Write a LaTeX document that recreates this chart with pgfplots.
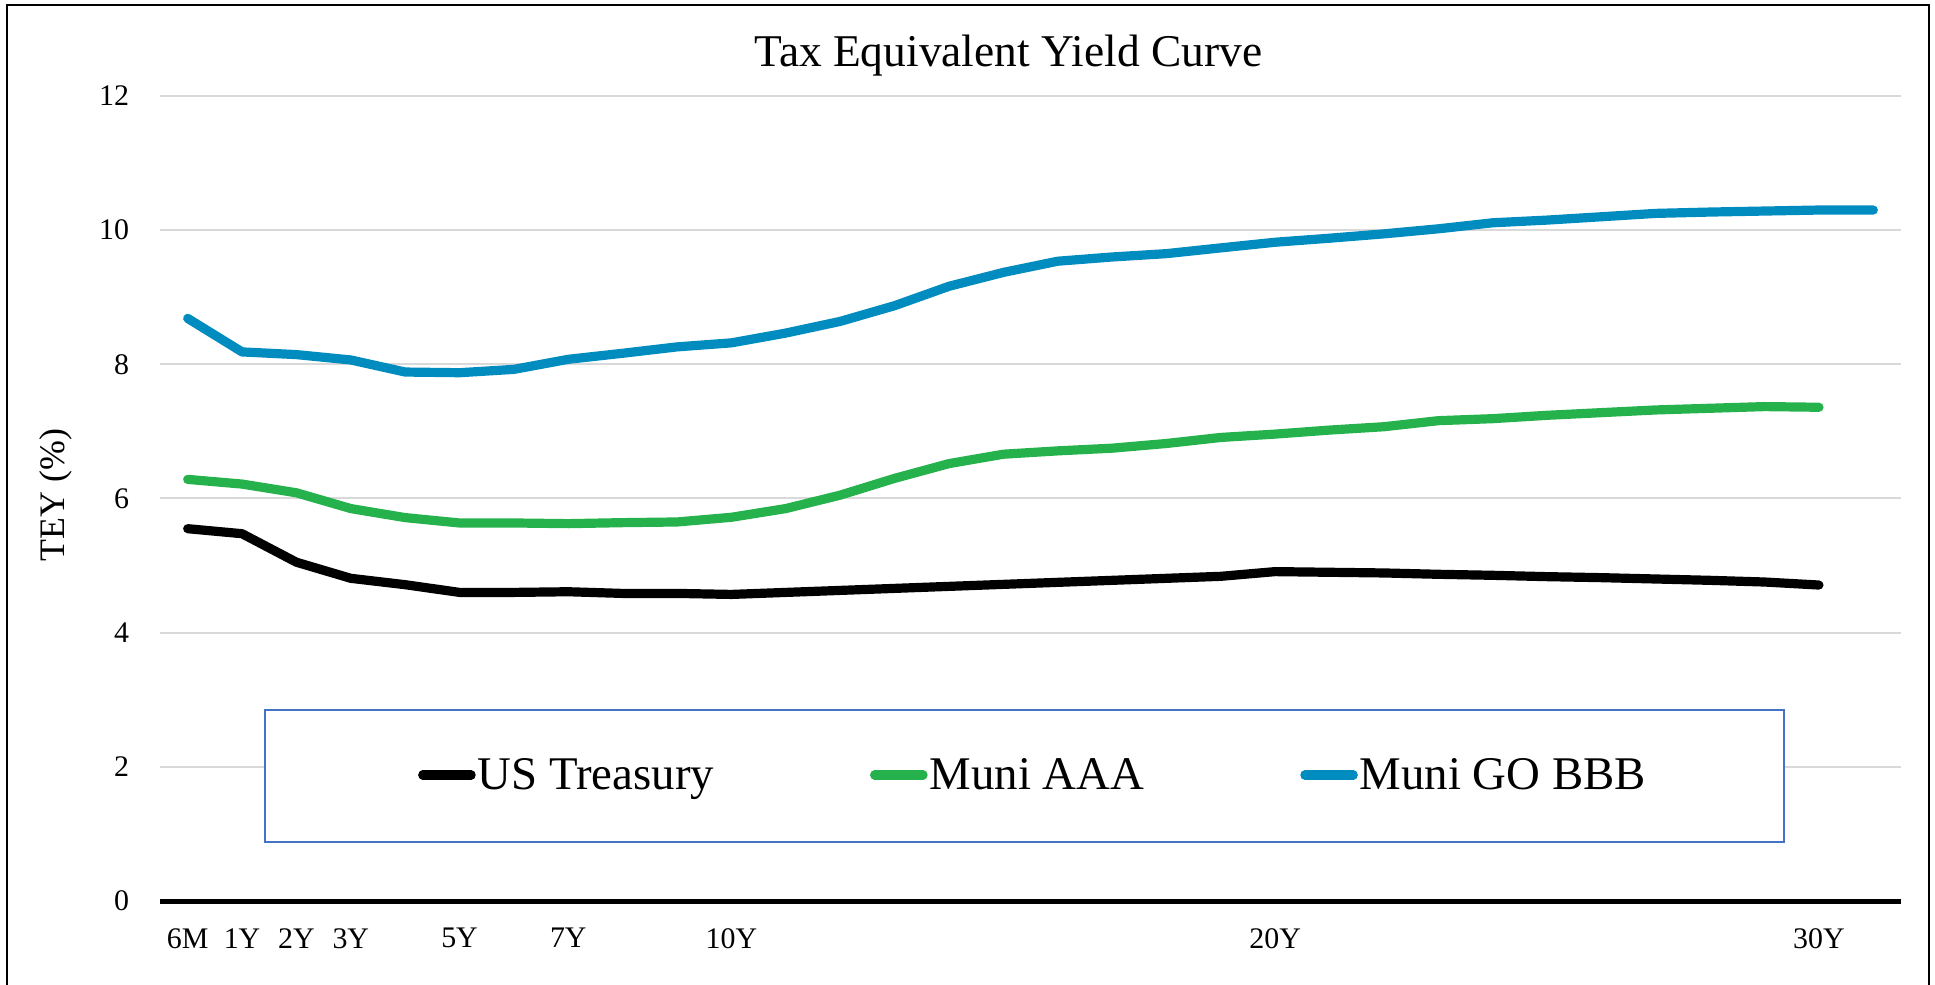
\documentclass[border=0pt]{standalone}
\usepackage{fontspec}
\setmainfont{Liberation Serif}
\usepackage{pgfplots}
\pgfplotsset{compat=1.18}
\usepackage{pgfplotstable}
\definecolor{tgreen}{RGB}{37,178,76}
\definecolor{tblue}{RGB}{0,140,190}
\definecolor{lborder}{RGB}{68,114,196}
\definecolor{gridc}{RGB}{217,217,217}

\pgfplotstableread{
x y
0 5.55
1 5.475
2 5.05
3 4.81
4 4.715
5 4.60
6 4.60
7 4.61
8 4.585
9 4.585
10 4.57
11 4.60
12 4.63
13 4.66
14 4.69
15 4.72
16 4.75
17 4.78
18 4.81
19 4.84
20 4.91
21 4.90
22 4.89
23 4.87
24 4.855
25 4.835
26 4.82
27 4.80
28 4.78
29 4.755
30 4.71
}\treasury

\pgfplotstableread{
x y
0 6.285
1 6.215
2 6.085
3 5.85
4 5.715
5 5.635
6 5.635
7 5.625
8 5.64
9 5.65
10 5.72
11 5.85
12 6.05
13 6.30
14 6.52
15 6.66
16 6.71
17 6.75
18 6.82
19 6.91
20 6.96
21 7.02
22 7.07
23 7.16
24 7.19
25 7.24
26 7.28
27 7.32
28 7.345
29 7.37
30 7.36
}\muniaaa

\pgfplotstableread{
x y
0 8.685
1 8.185
2 8.145
3 8.065
4 7.885
5 7.875
6 7.925
7 8.075
8 8.165
9 8.26
10 8.32
11 8.466
12 8.64
13 8.874
14 9.163
15 9.37
16 9.537
17 9.60
18 9.65
19 9.736
20 9.82
21 9.88
22 9.945
23 10.02
24 10.11
25 10.15
26 10.20
27 10.25
28 10.27
29 10.285
30 10.30
31 10.30
}\munibbb

\begin{document}
\begin{tikzpicture}
\useasboundingbox (-80.25bp,-42bp) rectangle (887.25bp,450.5bp);
\begin{axis}[
  at={(0,0)}, anchor=south west,
  width=870bp, height=402.5bp, scale only axis,
  xmin=-0.5, xmax=31.5, ymin=0, ymax=12,
  ytick={0,2,...,12},
  xtick={0,1,2,3,5,7,10,20,30},
  xticklabels={6M,1Y,2Y,3Y,5Y,7Y,10Y,20Y,30Y},
  major tick length=0pt,
  ymajorgrids, grid style={gridc, line width=1bp},
  axis lines*=left,
  x axis line style={black, line width=2.5bp},
  y axis line style={draw=none},
  /pgf/number format/assume math mode=true,
  yticklabel style={font=\fontsize{15}{18}\selectfont, anchor=east, inner sep=0pt, xshift=-15.5bp},
  xticklabel style={font=\fontsize{15}{18}\selectfont, anchor=north, inner sep=0pt, yshift=-13.5bp},
  legend columns=3,
  legend style={draw=none, fill=none, at={(0.5015,0.1565)}, anchor=center,
    font=\fontsize{23.5}{27}\selectfont,
    /tikz/every even column/.append style={column sep=77bp},
    nodes={inner sep=1bp}},
  legend image code/.code={\draw[#1, line cap=round] (2.3bp,0bp) -- (26.5bp,0bp);},
]
\path[draw=lborder, fill=white, line width=1bp] (rel axis cs:0.06006,0.0733) rectangle (rel axis cs:0.93305,0.2373);
\addplot[black, line width=4.6bp, line cap=round, line join=round] table[x=x,y=y] {\treasury};
\addlegendentry{US Treasury}
\addplot[tgreen, line width=4.6bp, line cap=round, line join=round] table[x=x,y=y] {\muniaaa};
\addlegendentry{Muni AAA}
\addplot[tblue, line width=4.6bp, line cap=round, line join=round] table[x=x,y=y] {\munibbb};
\addlegendentry{Muni GO BBB}
\end{axis}
\node at (423.9bp,422.7bp) {\fontsize{22.8}{26}\selectfont Tax Equivalent Yield Curve};
\node[rotate=90] at (-52.5bp,203bp) {\fontsize{18}{22}\selectfont TEY (\%)};
\draw[line width=1bp] (-76.75bp,-42bp) -- (-76.75bp,448bp) -- (884.25bp,448bp) -- (884.25bp,-42bp);
\end{tikzpicture}
\end{document}
